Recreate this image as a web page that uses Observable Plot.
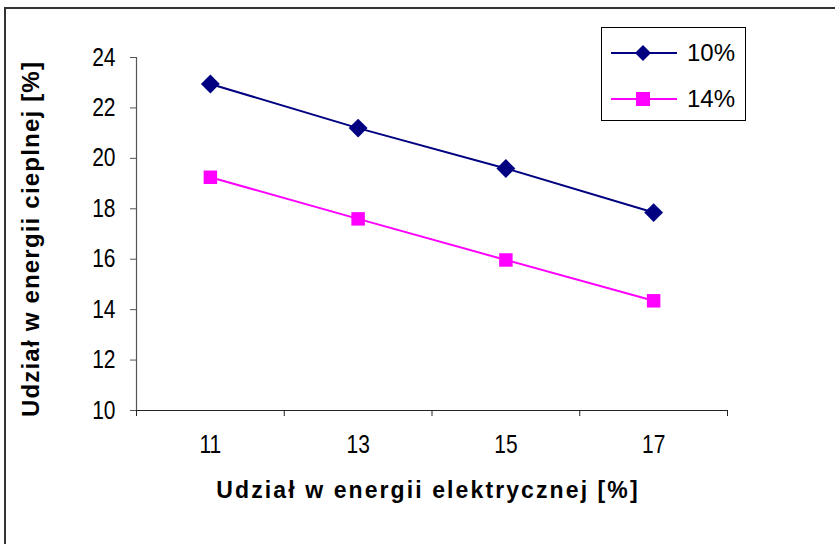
<!DOCTYPE html>
<html><head><meta charset="utf-8">
<script src="https://cdn.jsdelivr.net/npm/d3@7"></script>
<script src="https://cdn.jsdelivr.net/npm/@observablehq/plot@0.6"></script>
<style>
body{margin:0;background:#fff;}
#wrap{position:relative;width:835px;height:544px;overflow:hidden;font-family:"Liberation Sans",Arial,sans-serif;background:#fff;}
#border{position:absolute;left:4px;top:7px;width:900px;height:600px;border-top:2px solid #333;border-left:2px solid #333;}
#chart{position:absolute;left:0;top:0;}
#legend{position:absolute;left:601px;top:27px;width:143px;height:92px;border:1px solid #000;background:#fff;}
</style></head><body>
<div id="wrap"><div id="border"></div><div id="chart"></div><div id="legend"></div></div>
<script>
const categories = [11, 13, 15, 17];
const series10 = [22.95, 21.2, 19.6, 17.85];
const series14 = [19.25, 17.6, 15.97, 14.35];
const seriesNames = ["10%", "14%"];
const colors = ["#000080", "#FF00FF"];
const symbols = ["diamond2", "square"];
const yTicks = [10, 12, 14, 16, 18, 20, 22, 24];
const xBoundaries = [10, 12, 14, 16, 18];
const xTitle = "Udział w energii elektrycznej [%]";
const yTitle = "Udział w energii cieplnej [%]";

const data = [];
[series10, series14].forEach((s, i) => s.forEach((v, j) => data.push({x: categories[j], y: v, series: seriesNames[i]})));

const font = "Liberation Sans, Arial, sans-serif";
const chart = Plot.plot({
  width: 835, height: 544,
  marginLeft: 136, marginRight: 108, marginTop: 57, marginBottom: 134,
  style: {fontFamily: font, background: "transparent", overflow: "visible", color: "#000"},
  x: {domain: [10, 18], axis: null},
  y: {domain: [10, 24], axis: null},
  color: {domain: seriesNames, range: colors},
  symbol: {domain: seriesNames, range: symbols},
  marks: [
    Plot.ruleX([10], {stroke: "#555", strokeWidth: 1.2}),
    Plot.ruleY([10], {stroke: "#222", strokeWidth: 1.2}),
    Plot.axisY(yTicks, {anchor: "left", tickSize: 6, tickPadding: 15, fontSize: 21, stroke: "#555", fill: "#000", label: null}),
    Plot.axisX(xBoundaries, {anchor: "bottom", tickSize: 6, tickFormat: () => "", stroke: "#222", label: null}),
    Plot.axisX(categories, {anchor: "bottom", tickSize: 0, tickPadding: 25, fontSize: 21, fill: "#000", label: null}),
    Plot.line(data, {x: "x", y: "y", z: "series", stroke: "series", strokeWidth: 2}),
    Plot.dot(data.filter(d => d.series === "10%"), {x: "x", y: "y", symbol: "series", fill: "series", r: 8.5, stroke: "none"}),
    Plot.dot(data.filter(d => d.series === "14%"), {x: "x", y: "y", symbol: "series", fill: "series", r: 7.6, stroke: "none"}),
    Plot.text([yTitle], {frameAnchor: "left", textAnchor: "middle", dx: -105, dy: 5, rotate: -90, fontSize: 24, fontWeight: "bold", fill: "#000"}),
    Plot.text([xTitle], {frameAnchor: "bottom", dy: 87, dx: -4, fontSize: 23, fontWeight: "bold", fill: "#000"})
  ]
});
// Excel-like rendering: wide letter spacing on titles, slightly tall tick labels
chart.querySelectorAll("text").forEach(t => {
  if (t.textContent === xTitle) t.setAttribute("letter-spacing", "2.1");
  if (t.textContent === yTitle) t.setAttribute("letter-spacing", "1.2");
  if (/^\d+$/.test(t.textContent.trim())) {
    const tr = t.getAttribute("transform");
    if (tr && !/scale/.test(tr)) t.setAttribute("transform", tr + " scale(1,1.2)");
  }
});
document.getElementById("chart").appendChild(chart);

// legend
const ns = "http://www.w3.org/2000/svg";
const lg = document.createElementNS(ns, "svg");
lg.setAttribute("width", 143); lg.setAttribute("height", 92);
seriesNames.forEach((name, i) => {
  const cy = i === 0 ? 25 : 71;
  const line = document.createElementNS(ns, "line");
  line.setAttribute("x1", 9); line.setAttribute("x2", 75);
  line.setAttribute("y1", cy); line.setAttribute("y2", cy);
  line.setAttribute("stroke", colors[i]); line.setAttribute("stroke-width", 2);
  lg.appendChild(line);
  const sym = document.createElementNS(ns, "path");
  sym.setAttribute("d", i === 0 ? "M0,-8L8,0L0,8L-8,0Z" : "M-7,-7H7V7H-7Z");
  sym.setAttribute("transform", `translate(41,${cy})`);
  sym.setAttribute("fill", colors[i]);
  lg.appendChild(sym);
  const t = document.createElementNS(ns, "text");
  t.setAttribute("x", 85); t.setAttribute("y", cy);
  t.setAttribute("dy", "0.35em");
  t.setAttribute("font-size", 24);
  t.setAttribute("font-family", font);
  t.textContent = name;
  lg.appendChild(t);
});
document.getElementById("legend").appendChild(lg);
</script>
</body></html>
